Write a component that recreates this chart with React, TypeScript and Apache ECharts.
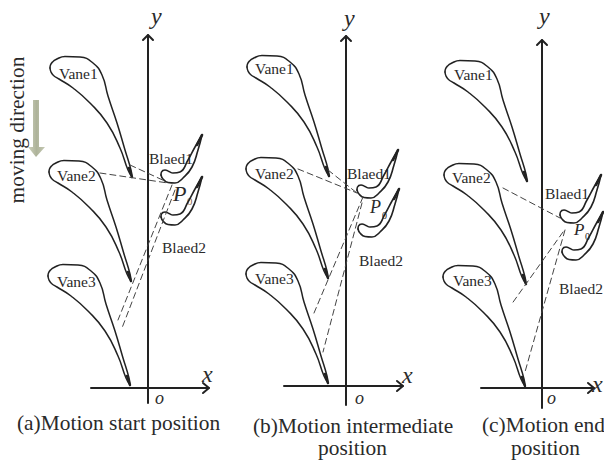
import React, { useEffect, useRef } from "react";
import * as echarts from "echarts";

type P = [number, number];

// Blade profile shapes, relative to their leading edge
const vaneUpper: P[] = [[0, 0], [0.5, -3], [2.5, -6], [6, -8.5], [15, -11.5], [30, -11], [43, -5], [52, 7], [58, 28], [67, 55], [75, 82], [81, 102], [82, 109]];
const vaneLower: P[] = [[82, 109], [78, 102], [70, 80], [57, 55], [40, 35], [23, 20], [9, 11], [3.5, 7.5], [1, 4], [0, 0]];
const vaneTail: P[] = [[79, 100], [82, 109]];
const bladeUpper: P[] = [[0, 0], [0.5, -3], [4, -5], [8, -3.5], [12, -2], [19, -3], [27, -15], [34, -28], [41, -40]];
const bladeLower: P[] = [[41, -40], [37, -25], [31, -8], [22, 3], [14, 8], [7, 7.5], [2, 4], [0, 0]];
const bladeTip: P[] = [[36, -30], [41, -40]];

// Where each profile sits
const vanesA: P[] = [[50, 68], [49, 172], [48, 276]];
const vanesB: P[] = [[247, 67], [246, 169], [246, 274]];
const vanesC: P[] = [[445, 72], [444, 175], [443, 277]];
const bladesA: P[] = [[161, 175], [161, 217]];
const bladesB: P[] = [[357, 190], [358, 229]];
const bladesC: P[] = [[560, 215], [562, 252]];

// Coordinate axes
const axisYa: P[] = [[148, 35], [148, 403]];
const axisXa: P[] = [[91, 388], [209, 388]];
const axisYb: P[] = [[346, 36], [346, 405]];
const axisXb: P[] = [[284, 386], [403, 386]];
const axisYc: P[] = [[542, 40], [542, 408]];
const axisXc: P[] = [[481, 388], [594, 388]];

// Dashed sight lines
const dashA: P[][] = [[[130, 165], [167, 182]], [[100, 173], [168, 183]], [[172, 185], [118, 320]], [[175, 190], [122, 328]]];
const dashB: P[][] = [[[328, 170], [357, 193]], [[298, 169], [357, 193]], [[363, 197], [314, 313]], [[362, 203], [323, 352]]];
const dashC: P[][] = [[[503, 188], [560, 218]], [[563, 232], [511, 305]], [[565, 230], [525, 372]]];

const moveArrow: P[] = [[33, 100], [39, 100], [39, 147], [45, 147], [36, 157], [28, 147], [33, 147]];

type T = [string, number, number, number, string?, string?];
const labels: T[] = [
  ["Vane1", 59, 73, 15.5], ["Vane2", 57, 175, 15.5], ["Vane3", 57, 281, 15.5], ["Blaed1", 149, 158, 15.5], ["Blaed2", 162, 247, 15.5],
  ["Vane1", 255, 68, 15.5], ["Vane2", 255, 173, 15.5], ["Vane3", 255, 278, 15.5], ["Blaed1", 347, 173, 15.5], ["Blaed2", 359, 260, 15.5],
  ["Vane1", 454, 74, 15.5], ["Vane2", 452, 177, 15.5], ["Vane3", 453, 280, 15.5], ["Blaed1", 545, 193, 15.5], ["Blaed2", 559, 288, 15.5],
  ["(a)Motion start position", 17, 423, 21.4], ["(b)Motion intermediate", 253, 426, 21.4], ["position", 318, 448, 21.4],
  ["(c)Motion end", 482, 425, 21.4], ["position", 511, 448, 21.4],
  ["y", 151, 16, 24, "italic"], ["x", 202, 374, 24, "italic"], ["o", 155, 398, 18, "italic"],
  ["y", 344, 18, 24, "italic"], ["x", 402, 375, 24, "italic"], ["o", 355, 398, 18, "italic"],
  ["y", 539, 16, 24, "italic"], ["x", 592, 384, 24, "italic"], ["o", 547, 398, 18, "italic"],
  ["P", 173, 193, 22, "italic"], ["0", 187, 201, 11, "normal", "#8a6a50"],
  ["P", 370, 207, 18, "italic"], ["0", 382, 215, 10],
  ["P", 574, 229, 17, "italic"], ["0", 585, 236, 10],
];

const move = (pts: P[], o: P): P[] => pts.map(([x, y]) => [x + o[0], y + o[1]] as P);

function line(data: P[], width: number, smooth: number | boolean = false, dash = false) {
  return {
    type: "line",
    data,
    smooth,
    symbol: "none",
    silent: true,
    clip: false,
    lineStyle: { color: dash ? "#444" : "#222", width, type: dash ? [6, 4] : "solid", cap: "round" },
  };
}

export default function App() {
  const ref = useRef<HTMLDivElement>(null);
  useEffect(() => {
    const chart = echarts.init(ref.current!, undefined, { renderer: "svg" });
    const series: any[] = [];
    vanesA.concat(vanesB, vanesC).forEach((o) => {
      series.push(line(move(vaneUpper, o), 1.5, 0.5), line(move(vaneLower, o), 1.5, 0.5), line(move(vaneTail, o), 2.4));
    });
    bladesA.concat(bladesB, bladesC).forEach((o) => {
      series.push(line(move(bladeUpper, o), 1.6, 0.5), line(move(bladeLower, o), 1.6, 0.5), line(move(bladeTip, o), 2.6));
    });
    [axisYa, axisXa, axisYb, axisXb, axisYc, axisXc].forEach((a) => series.push(line(a, 2)));
    [axisYa, axisYb, axisYc].forEach((a) => {
      const [x, y] = a[0];
      series.push(line([[x - 5, y + 5], [x, y], [x + 5, y + 5]], 2));
    });
    [axisXa, axisXb, axisXc].forEach((a) => {
      const [x, y] = a[1];
      series.push(line([[x - 6, y - 5], [x, y], [x - 6, y + 5]], 2));
    });
    dashA.concat(dashB, dashC).forEach((d) => series.push(line(d, 1, false, true)));
    series.push({
      type: "custom",
      silent: true,
      clip: false,
      data: [0],
      renderItem: (_: any, api: any) => ({
        type: "polygon",
        shape: { points: moveArrow.map((p) => api.coord(p)) },
        style: {
          fill: new echarts.graphic.LinearGradient(0, 0, 1, 0, [
            { offset: 0, color: "#cfd2be" },
            { offset: 0.5, color: "#aeb39a" },
            { offset: 1, color: "#c4c8b2" },
          ]),
        },
      }),
    });
    const graphic: any[] = labels.map(([text, x, y, size, fontStyle, color]) => ({
      type: "text",
      x,
      y,
      silent: true,
      style: {
        text,
        fontFamily: "Liberation Serif",
        fontSize: size,
        fontStyle: fontStyle === "italic" ? "italic" : "normal",
        fill: color || "#2a2a2a",
        textAlign: "left",
        textVerticalAlign: "middle",
      },
    }));
    graphic.push({
      type: "text",
      x: 17,
      y: 130,
      rotation: Math.PI / 2,
      silent: true,
      style: {
        text: "moving direction",
        fontFamily: "Liberation Serif",
        fontSize: 21.4,
        fill: "#2a2a2a",
        textAlign: "center",
        textVerticalAlign: "middle",
      },
    });
    chart.setOption({
      animation: false,
      backgroundColor: "#ffffff",
      grid: { left: 0, right: 0, top: 0, bottom: 0 },
      xAxis: { type: "value", min: 0, max: 604, show: false },
      yAxis: { type: "value", min: 0, max: 460, inverse: true, show: false },
      series,
      graphic,
    });
    return () => chart.dispose();
  }, []);
  return <div ref={ref} style={{ position: "absolute", left: 0, top: 0, width: 604, height: 460 }} />;
}
